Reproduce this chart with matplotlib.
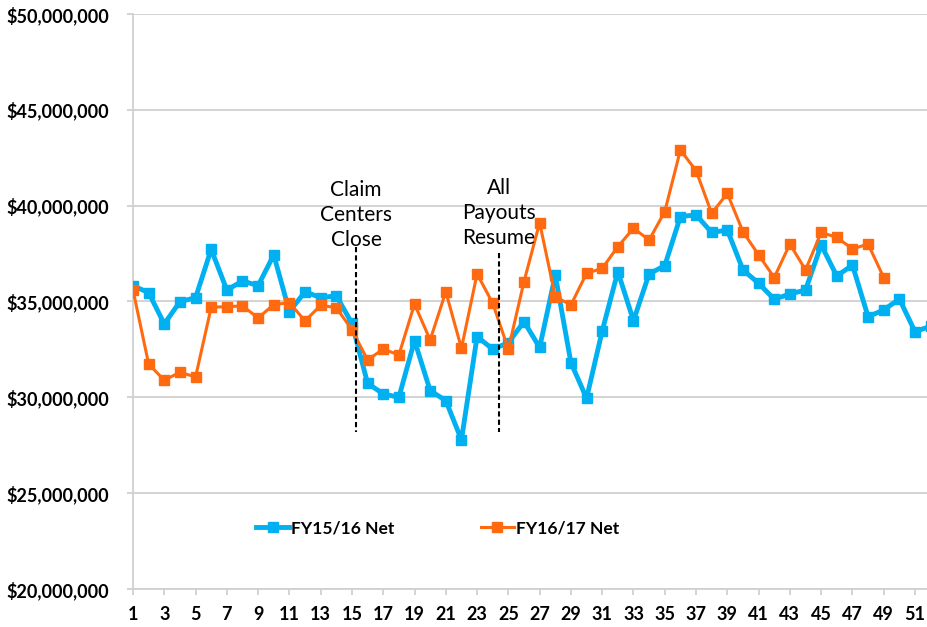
import matplotlib
matplotlib.use("Agg")
import matplotlib.pyplot as plt
from matplotlib.ticker import FuncFormatter

plt.rcParams['font.family'] = ['Lato', 'DejaVu Sans']

weeks = list(range(1, 53))

# weekly net, in $ millions
fy1516 = [35.83, 35.46, 33.83, 34.99, 35.2, 37.72, 35.6, 36.07, 35.83, 37.43,
          34.47, 35.51, 35.2, 35.3, 33.86, 30.73, 30.18, 30.0, 32.96, 30.35,
          29.83, 27.78, 33.17, 32.51, 32.85, 33.95, 32.6, 36.38, 31.81, 29.95,
          33.46, 36.56, 34.0, 36.44, 36.87, 39.43, 39.52, 38.6, 38.73, 36.65,
          35.95, 35.12, 35.39, 35.6, 37.95, 36.33, 36.9, 34.21, 34.56, 35.13,
          33.43, 33.71]
fy1617 = [35.6, 31.74, 30.89, 31.31, 31.06, 34.7, 34.73, 34.77, 34.14, 34.84,
          34.94, 33.99, 34.8, 34.68, 33.52, 31.95, 32.52, 32.21, 34.87, 32.99,
          35.51, 32.56, 36.44, 34.91, 32.51, 36.04, 39.11, 35.25, 34.82, 36.47,
          36.73, 37.86, 38.82, 38.21, 39.69, 42.9, 41.83, 39.6, 40.64, 38.64,
          37.43, 36.25, 38.0, 36.65, 38.6, 38.35, 37.74, 38.0, 36.25]

# (week, label, top of dashed line, text bottom)
events = [(15.26, "Claim\nCenters\nClose", 37.85, 37.70),
          (24.4, "All\nPayouts\nResume", 37.53, 37.80)]

blue = '#00B0F0'
orange = '#FF6A10'

fig = plt.figure(figsize=(9.27, 6.27), dpi=100)
ax = fig.add_axes([133/927, 38/627, 794/927, 575/627])

ax.plot(weeks, [v * 1e6 for v in fy1516], color=blue, lw=3.5, marker='s',
        ms=7, label='FY15/16 Net', zorder=3)
ax.plot(weeks[:len(fy1617)], [v * 1e6 for v in fy1617], color=orange, lw=2.2,
        marker='s', ms=7, label='FY16/17 Net', zorder=4)

for x, txt, ytop, ytxt in events:
    ax.plot([x, x], [ytop * 1e6, 28.2e6], color='black', lw=1.5, ls=(0, (2.5, 1.5)), zorder=5)
    ax.text(x, ytxt * 1e6, txt, ha='center', va='bottom', fontsize=15,
            linespacing=1.3, zorder=6)

ax.set_xlim(1, 1 + 794 / 15.64)
ax.set_ylim(20e6, 50e6)
ax.set_yticks([20e6, 25e6, 30e6, 35e6, 40e6, 45e6, 50e6])
ax.yaxis.set_major_formatter(FuncFormatter(lambda v, p: '${:,.0f}'.format(v)))
ax.set_xticks(list(range(1, 53, 2)))

grid_c = '#D0D0D0'
ax.grid(axis='y', color=grid_c, lw=1.3)
ax.set_axisbelow(True)
for s in ['top', 'right']:
    ax.spines[s].set_visible(False)
for s in ['left', 'bottom']:
    ax.spines[s].set_color(grid_c)
    ax.spines[s].set_linewidth(1.3)
ax.tick_params(axis='y', length=4.5, color=grid_c, width=1.3, pad=13, labelsize=13)
ax.tick_params(axis='x', length=4.5, color=grid_c, width=1.3, pad=8, labelsize=13)
for lab in ax.get_xticklabels() + ax.get_yticklabels():
    lab.set_fontweight('bold')

ax.legend(loc='center', bbox_to_anchor=(0.3835, 0.106), ncol=2, frameon=False,
          handlelength=1.9, handletextpad=0.1, columnspacing=5.0,
          prop={'weight': 'bold', 'size': 12.5})

fig.savefig('out.png', dpi=100)
